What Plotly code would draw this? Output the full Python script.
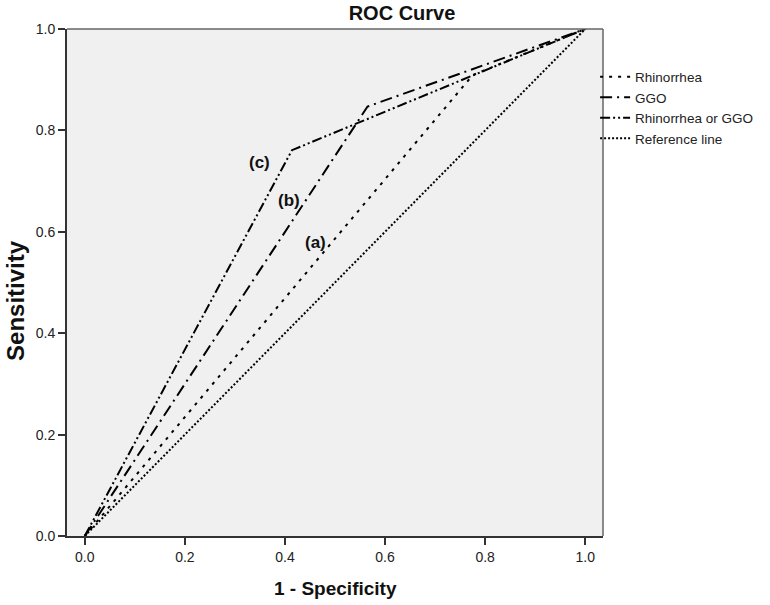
import plotly.graph_objects as go

# Data
rhin_x = [0.0, 0.775, 1.0]
rhin_y = [0.0, 0.909, 1.0]
ggo_x = [0.0, 0.565, 1.0]
ggo_y = [0.0, 0.847, 1.0]
rog_x = [0.0, 0.414, 1.0]
rog_y = [0.0, 0.761, 1.0]
ref_x = [0.0, 1.0]
ref_y = [0.0, 1.0]

series_names = ["Rhinorrhea", "GGO", "Rhinorrhea or GGO", "Reference line"]
label_text = ["(a)", "(b)", "(c)"]
label_x = [0.461, 0.409, 0.3485]
label_y = [0.578, 0.661, 0.736]
tick_vals = [0.0, 0.2, 0.4, 0.6, 0.8, 1.0]
tick_text = ["0.0", "0.2", "0.4", "0.6", "0.8", "1.0"]

FONT = "Liberation Sans, Arial, sans-serif"

fig = go.Figure()
fig.add_trace(go.Scatter(x=rhin_x, y=rhin_y, mode="lines", name=series_names[0],
                         line=dict(color="black", width=2, dash="3px,6px"), cliponaxis=False))
fig.add_trace(go.Scatter(x=ggo_x, y=ggo_y, mode="lines", name=series_names[1],
                         line=dict(color="black", width=2, dash="12px,5px,2px,5px"), cliponaxis=False))
fig.add_trace(go.Scatter(x=rog_x, y=rog_y, mode="lines", name=series_names[2],
                         line=dict(color="black", width=2, dash="10px,3px,2px,3px,2px,3px"), cliponaxis=False))
fig.add_trace(go.Scatter(x=ref_x, y=ref_y, mode="lines", name=series_names[3],
                         line=dict(color="black", width=2, dash="2px,2px"), cliponaxis=False))

for t, x, y in zip(label_text, label_x, label_y):
    fig.add_annotation(x=x, y=y, text="<b>%s</b>" % t, showarrow=False,
                       font=dict(family=FONT, size=17, color="#111"))

# top and right frame
fig.add_shape(type="line", xref="paper", yref="paper", x0=0, x1=1, y0=1, y1=1,
              line=dict(color="#666", width=1.5))
fig.add_shape(type="line", xref="paper", yref="paper", x0=1, x1=1, y0=0, y1=1,
              line=dict(color="#666", width=1.5))

fig.add_annotation(xref="paper", yref="paper", x=-52 / 543, xanchor="center", y=0.465,
                   text="<b>Sensitivity</b>", textangle=-90, showarrow=False,
                   font=dict(family=FONT, size=24, color="#111"))
fig.add_annotation(xref="paper", yref="paper", x=0.5, y=-52 / 507, yanchor="middle",
                   text="<b>1 - Specificity</b>", showarrow=False,
                   font=dict(family=FONT, size=19, color="#111"))

fig.update_layout(
    width=770, height=605,
    margin=dict(l=67, r=160, t=29, b=69),
    paper_bgcolor="white", plot_bgcolor="#f0f0f0",
    font=dict(family=FONT, size=14, color="#222"),
    title=dict(text="<b>ROC Curve</b>", x=402 / 770, xanchor="center", y=1 - 13 / 605, yanchor="middle",
               font=dict(family=FONT, size=20, color="#111")),
    showlegend=True,
    legend=dict(x=1 - 8 / 543, xanchor="left", y=0.936, yanchor="top", bgcolor="rgba(0,0,0,0)",
                font=dict(family=FONT, size=13.5, color="#222"), tracegroupgap=0,
                itemwidth=30),
)
fig.update_xaxes(range=[-0.0355, 1.0355], tickvals=tick_vals, ticktext=tick_text,
                 showgrid=False, zeroline=False, showline=True, linecolor="#333", linewidth=2,
                 ticks="outside", ticklen=7, tickwidth=1.5, tickcolor="#333",
                 tickfont=dict(family=FONT, size=14, color="#222"))
fig.update_yaxes(range=[0, 1], tickvals=tick_vals, ticktext=tick_text,
                 showgrid=False, zeroline=False, showline=True, linecolor="#333", linewidth=2,
                 ticks="outside", ticklen=7, tickwidth=1.5, tickcolor="#333",
                 tickfont=dict(family=FONT, size=14, color="#222"))

fig.write_html("out.html", config={"displayModeBar": False},
               post_script="document.body.style.margin='0';")
